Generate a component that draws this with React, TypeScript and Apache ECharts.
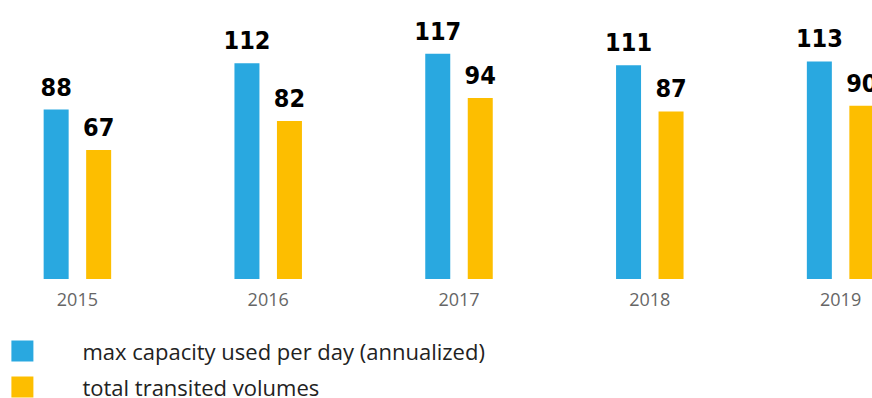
import React, { useEffect, useRef } from "react";
import * as echarts from "echarts";

const years = ["2015", "2016", "2017", "2018", "2019"];
const maxCapacity = [88, 112, 117, 111, 113];
const transited = [67, 82, 94, 87, 90];
const seriesNames = ["max capacity used per day (annualized)", "total transited volumes"];

const BLUE = "#29A8E0";
const YELLOW = "#FDBE00";
const SHIFT = 18.4;

export default function App() {
  const ref = useRef<HTMLDivElement>(null);
  useEffect(() => {
    if (!ref.current) return;
    const chart = echarts.init(ref.current, null, { renderer: "svg" });
    const valueLabel = {
      show: true,
      position: "top" as const,
      distance: 10,
      color: "#000",
      fontSize: 25,
      fontWeight: "bold" as const,
      fontFamily: "'DejaVu Sans Condensed', 'Open Sans', sans-serif",
    };
    chart.setOption({
      animation: false,
      backgroundColor: "#ffffff",
      grid: { left: 0, right: 0, top: 28.7, bottom: 119, containLabel: false },
      legend: {
        orient: "vertical",
        left: 11 + SHIFT,
        top: 340,
        padding: 0,
        icon: "rect",
        itemWidth: 22,
        itemHeight: 21,
        itemGap: 14,
        textStyle: {
          fontSize: 22,
          color: "#222",
          fontFamily: "'Open Sans', sans-serif",
          padding: [0, 0, 0, 44],
        },
        data: seriesNames,
      },
      xAxis: {
        type: "category",
        data: years,
        axisLine: { show: false },
        axisTick: { show: false },
        axisLabel: {
          margin: 11,
          fontSize: 18,
          color: "#666",
          fontFamily: "'Open Sans', sans-serif",
        },
      },
      yAxis: {
        type: "value",
        min: 0,
        max: 130,
        show: false,
        splitLine: { show: false },
      },
      series: [
        {
          name: seriesNames[0],
          type: "bar",
          data: maxCapacity,
          barWidth: 25,
          barGap: "70%",
          itemStyle: { color: BLUE },
          label: valueLabel,
        },
        {
          name: seriesNames[1],
          type: "bar",
          data: transited,
          barWidth: 25,
          barGap: "70%",
          itemStyle: { color: YELLOW },
          label: valueLabel,
        },
      ],
    });
    return () => chart.dispose();
  }, []);
  return (
    <div
      ref={ref}
      style={{ position: "fixed", left: -SHIFT, top: 0, width: 954, height: 398, background: "#fff" }}
    />
  );
}
